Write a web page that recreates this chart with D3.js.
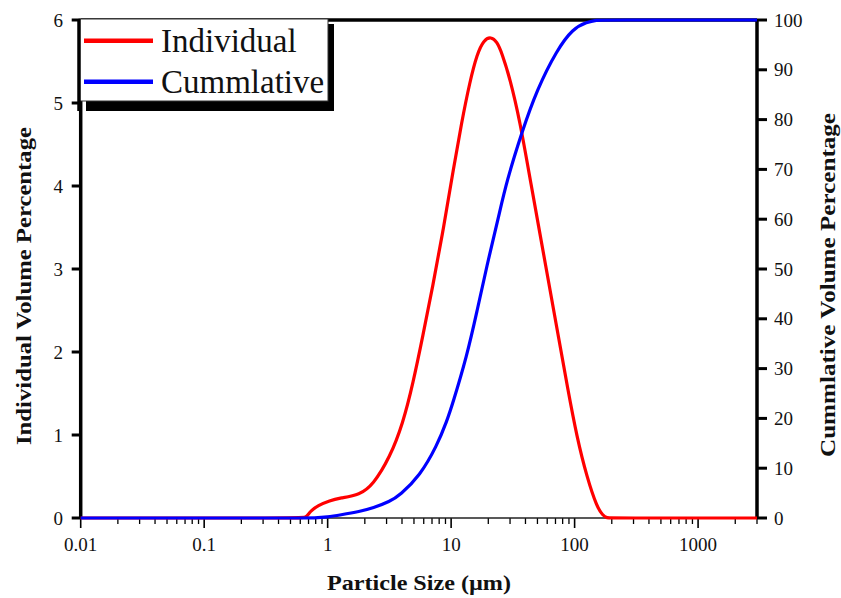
<!DOCTYPE html>
<html>
<head>
<meta charset="utf-8">
<script src="https://cdn.jsdelivr.net/npm/d3@7"></script>
<style>
  html, body { margin: 0; padding: 0; background: #fff; }
  svg { display: block; font-family: 'Liberation Serif', 'Times New Roman', serif; }
</style>
</head>
<body>
<div id="chart"></div>
<script>
// particle size (um) and individual volume %
const indivSize = [0.01, 0.6, 0.667, 0.72, 0.834, 1.04, 1.26, 1.82, 2.33, 3.19, 4.07, 4.91, 5.91, 7.12, 8.58, 10.15, 12.2, 14.2, 16.2, 18.4, 21.0, 23.5, 25.8, 29.9, 36.1, 43.4, 59.3, 74.1, 87.6, 104.5, 125.9, 151.7, 169.5, 182.5, 200, 3000];
const indivValue = [0, 0, 0, 0.08, 0.15, 0.21, 0.24, 0.28, 0.40, 0.73, 1.14, 1.62, 2.2, 2.8, 3.45, 4.10, 4.78, 5.26, 5.59, 5.76, 5.80, 5.74, 5.60, 5.30, 4.78, 4.10, 2.98, 2.18, 1.57, 0.97, 0.49, 0.13, 0.03, 0, 0, 0];

// particle size (um) and cumulative volume %
const cumSize = [0.01, 0.7, 0.76, 1.0, 1.26, 1.82, 2.33, 3.19, 3.85, 5.59, 7.67, 9.25, 10.3, 13.4, 16.2, 19.4, 24.5, 28.1, 37.4, 49.5, 71.9, 96.9, 125.9, 151.7, 170, 3000];
const cumValue = [0, 0, 0, 0.2, 0.6, 1.3, 2.0, 3.3, 4.6, 8.5, 14.5, 19.5, 23, 32.5, 41.5, 50.5, 61, 67.5, 77.5, 86, 94, 98.3, 99.6, 100, 100, 100];

const xTicks = [0.01, 0.1, 1, 10, 100, 1000];
const xTickLabels = ['0.01', '0.1', '1', '10', '100', '1000'];
const leftTicks = [0, 1, 2, 3, 4, 5, 6];
const rightTicks = [0, 10, 20, 30, 40, 50, 60, 70, 80, 90, 100];
const seriesNames = ['Individual', 'Cummlative'];
const seriesColors = ['#ff0000', '#0000ff'];

const WIDTH = 841;
const HEIGHT = 598;
const L = 80.7, R = 757, T = 20, B = 518;

const svg = d3.select('#chart').append('svg')
  .attr('width', WIDTH).attr('height', HEIGHT)
  .attr('viewBox', `0 0 ${WIDTH} ${HEIGHT}`);

const x = d3.scaleLog().domain([0.01, 3000]).range([L, R]);
const yL = d3.scaleLinear().domain([0, 6]).range([B, T]);
const yR = d3.scaleLinear().domain([0, 100]).range([B, T]);

// x axis minor ticks
const minor = x.ticks().filter(t => !xTicks.some(m => Math.abs(m - t) / m < 1e-6));
svg.append('g').selectAll('line').data(minor).join('line')
  .attr('x1', d => x(d)).attr('x2', d => x(d))
  .attr('y1', B).attr('y2', B + 6)
  .attr('stroke', '#000').attr('stroke-width', 1.3);

svg.append('g').selectAll('line').data(xTicks).join('line')
  .attr('x1', d => x(d)).attr('x2', d => x(d))
  .attr('y1', B).attr('y2', B + 10)
  .attr('stroke', '#000').attr('stroke-width', 1.6);

svg.append('g').selectAll('text').data(xTicks).join('text')
  .attr('x', d => x(d)).attr('y', 551)
  .attr('text-anchor', 'middle')
  .attr('font-size', 19).attr('fill', '#111')
  .text((d, i) => xTickLabels[i]);

// left ticks
svg.append('g').selectAll('line').data(leftTicks).join('line')
  .attr('x1', L - 9).attr('x2', L)
  .attr('y1', d => yL(d)).attr('y2', d => yL(d))
  .attr('stroke', '#000').attr('stroke-width', 3);
svg.append('g').selectAll('text').data(leftTicks).join('text')
  .attr('x', 63).attr('y', d => yL(d) + 6.5)
  .attr('text-anchor', 'end')
  .attr('font-size', 19).attr('fill', '#111')
  .text(d => d);

// right ticks
svg.append('g').selectAll('line').data(rightTicks).join('line')
  .attr('x1', R).attr('x2', R + 10)
  .attr('y1', d => yR(d)).attr('y2', d => yR(d))
  .attr('stroke', '#000').attr('stroke-width', 3);
svg.append('g').selectAll('text').data(rightTicks).join('text')
  .attr('x', 774).attr('y', d => yR(d) + 6.5)
  .attr('text-anchor', 'start')
  .attr('font-size', 19).attr('fill', '#111')
  .text(d => d);

// frame
svg.append('line').attr('x1', L).attr('x2', R).attr('y1', B).attr('y2', B)
  .attr('stroke', '#222').attr('stroke-width', 1.5);
svg.append('line').attr('x1', L).attr('x2', R).attr('y1', T).attr('y2', T)
  .attr('stroke', '#000').attr('stroke-width', 3.5);
svg.append('line').attr('x1', L).attr('x2', L).attr('y1', T).attr('y2', B)
  .attr('stroke', '#000').attr('stroke-width', 3.5);
svg.append('line').attr('x1', R).attr('x2', R).attr('y1', T).attr('y2', B)
  .attr('stroke', '#000').attr('stroke-width', 3.5);

// curves
const indiv = indivSize.map((s, i) => [s, indivValue[i]]);
const cum = cumSize.map((s, i) => [s, cumValue[i]]);

const lineL = d3.line().x(d => x(d[0])).y(d => yL(d[1])).curve(d3.curveBasis);
const lineR = d3.line().x(d => x(d[0])).y(d => yR(d[1])).curve(d3.curveBasis);

svg.append('path').datum(indiv).attr('d', lineL)
  .attr('fill', 'none').attr('stroke', seriesColors[0]).attr('stroke-width', 3.2)
  .attr('stroke-linejoin', 'round');
svg.append('path').datum(cum).attr('d', lineR)
  .attr('fill', 'none').attr('stroke', seriesColors[1]).attr('stroke-width', 3.2)
  .attr('stroke-linejoin', 'round');

// axis titles
svg.append('text')
  .attr('x', 419).attr('y', 590)
  .attr('text-anchor', 'middle')
  .attr('font-size', 22).attr('font-weight', 'bold').attr('fill', '#111')
  .attr('textLength', 184).attr('lengthAdjust', 'spacingAndGlyphs')
  .text('Particle Size (\u00b5m)');

svg.append('text')
  .attr('transform', 'translate(31,286) rotate(-90)')
  .attr('text-anchor', 'middle')
  .attr('font-size', 21).attr('font-weight', 'bold').attr('fill', '#111')
  .attr('textLength', 318).attr('lengthAdjust', 'spacingAndGlyphs')
  .text('Individual Volume Percentage');

svg.append('text')
  .attr('transform', 'translate(835,285) rotate(-90)')
  .attr('text-anchor', 'middle')
  .attr('font-size', 21).attr('font-weight', 'bold').attr('fill', '#111')
  .attr('textLength', 344).attr('lengthAdjust', 'spacingAndGlyphs')
  .text('Cummlative Volume Percentage');

// legend with shadow
const legend = svg.append('g');
legend.append('rect').attr('x', 86).attr('y', 24).attr('width', 248).attr('height', 87).attr('fill', '#000');
legend.append('rect').attr('x', 79).attr('y', 19).attr('width', 249).attr('height', 82)
  .attr('fill', '#fff').attr('stroke', '#333').attr('stroke-width', 1);
legend.append('line').attr('x1', 79).attr('x2', 79).attr('y1', 19).attr('y2', 111)
  .attr('stroke', '#000').attr('stroke-width', 3.5);

const item = legend.selectAll('g.item').data(seriesNames).join('g')
  .attr('class', 'item')
  .attr('transform', (d, i) => `translate(0, ${40.7 + i * 41})`);
item.append('line').attr('x1', 84).attr('x2', 153).attr('y1', 0).attr('y2', 0)
  .attr('stroke', (d, i) => seriesColors[i]).attr('stroke-width', 4.5);
item.append('text').attr('x', 161).attr('y', 11)
  .attr('font-size', 33).attr('fill', '#111')
  .text(d => d);
</script>
</body>
</html>
